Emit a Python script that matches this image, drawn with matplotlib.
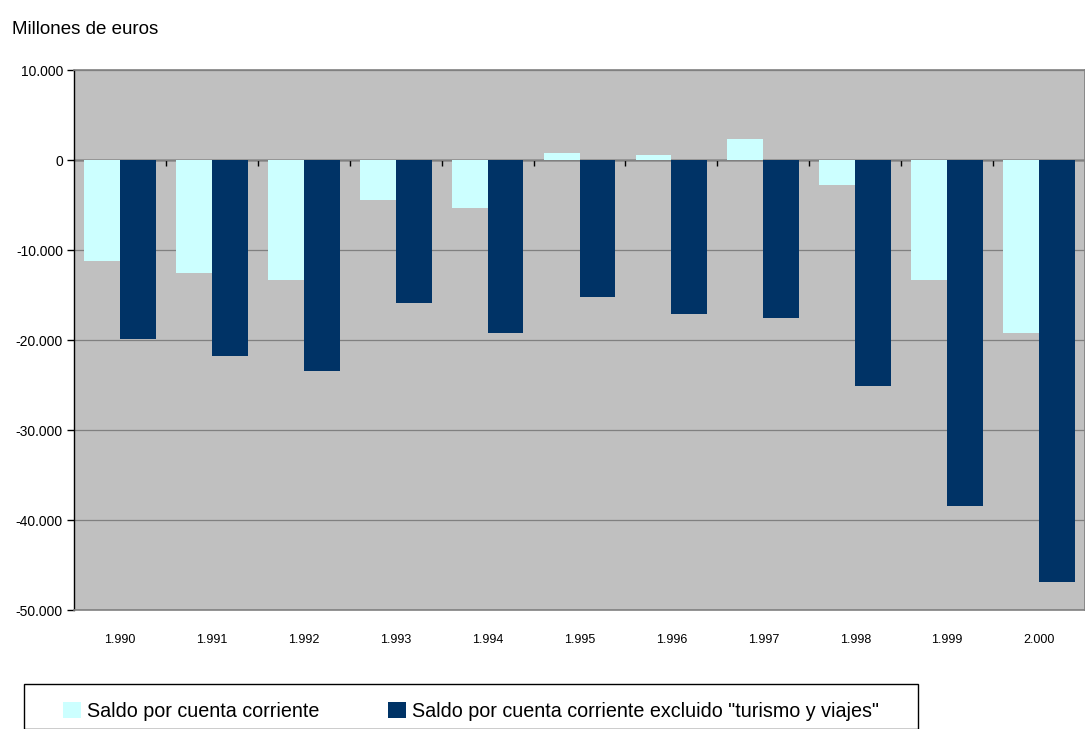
import matplotlib.pyplot as plt
from matplotlib.patches import Rectangle

# Datos (millones de euros)
anios = ["1.990", "1.991", "1.992", "1.993", "1.994", "1.995",
         "1.996", "1.997", "1.998", "1.999", "2.000"]
saldo_cc = [-11200, -12600, -13300, -4400, -5300, 800,
            600, 2300, -2800, -13300, -19200]
saldo_sin_turismo = [-19900, -21800, -23400, -15900, -19200, -15200,
                     -17100, -17600, -25100, -38400, -46900]

yticks = [10000, 0, -10000, -20000, -30000, -40000, -50000]
ytick_labels = ["10.000", "0", "-10.000", "-20.000", "-30.000", "-40.000", "-50.000"]

color_claro = "#CCFFFF"
color_oscuro = "#003366"

plt.rcParams['font.family'] = ['Liberation Sans', 'DejaVu Sans']

fig = plt.figure(figsize=(10.85, 7.29), dpi=100)
ax = fig.add_axes([74 / 1085, 119 / 729, 1011 / 1085, 540 / 729])
ax.set_facecolor("#C0C0C0")

x = list(range(len(anios)))
w = 0.39
b1 = ax.bar([i - w / 2 for i in x], saldo_cc, width=w, color=color_claro,
            label="Saldo por cuenta corriente")
b2 = ax.bar([i + w / 2 for i in x], saldo_sin_turismo, width=w, color=color_oscuro,
            label='Saldo por cuenta corriente excluido "turismo y viajes"')

ax.set_xlim(-0.5, len(anios) - 0.5)
ax.set_ylim(-50000, 10000)
ax.set_yticks(yticks)
ax.set_yticklabels(ytick_labels, fontsize=10)
ax.tick_params(axis='y', direction='out', length=5, width=1, color='black', pad=3)

ax.set_xticks(x)
ax.set_xticklabels(anios, fontsize=9)
ax.tick_params(axis='x', length=0, pad=17)

ax.set_axisbelow(True)
ax.yaxis.grid(True, color="#808080", linewidth=0.9)

for s in ['top', 'bottom', 'right']:
    ax.spines[s].set_color("#808080")
    ax.spines[s].set_linewidth(1.2)
ax.spines['left'].set_color('black')
ax.spines['left'].set_linewidth(1)

# eje de categorías en el cero, con marcas entre años
ymin, ymax = ax.get_ylim()
sec = ax.secondary_xaxis((0 - ymin) / (ymax - ymin))
sec.set_alignment('bottom')
sec.set_xticks([i + 0.5 for i in x[:-1]])
sec.set_xticklabels([])
sec.tick_params(direction='out', length=4, width=1, color='black')
sec.spines['bottom'].set_color('black')
sec.spines['bottom'].set_linewidth(1)

fig.text(12 / 1085, 1 - 30 / 729, "Millones de euros", fontsize=13.5, va='center', ha='left')

# leyenda
fig.patches.append(Rectangle((24 / 1085, 0), (918 - 24) / 1085, 45 / 729,
                             transform=fig.transFigure, facecolor='white',
                             edgecolor='black', linewidth=1))
fig.legend(handles=[b1, b2], loc='upper left', bbox_to_anchor=(63 / 1085, 1 - 702 / 729),
           ncol=2, frameon=False, fontsize=14.2, borderpad=0, borderaxespad=0,
           handlelength=0.9, handleheight=0.9, handletextpad=0.3, columnspacing=3.5)

fig.savefig("out.png", dpi=100)
